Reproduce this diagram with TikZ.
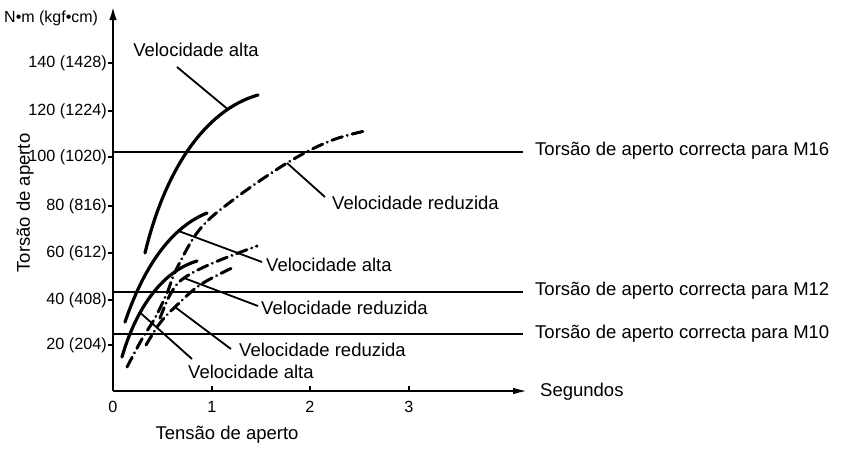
\documentclass[tikz,border=0pt]{standalone}
\usepackage{fontspec}
\setmainfont{Liberation Sans}
\usetikzlibrary{arrows.meta}
\begin{document}
\begin{tikzpicture}[x=1pt,y=-1pt,
  lbl/.style={font=\fontsize{18.5}{20}\selectfont, inner sep=0pt},
  ticklbl/.style={font=\fontsize{16.2}{18}\selectfont, inner sep=0pt},
  unitlbl/.style={font=\fontsize{16}{17}\selectfont, inner sep=0pt},
  high/.style={line width=3.2pt, line cap=round},
  low/.style={line width=3pt, line cap=round, dash pattern=on 11pt off 5pt on 0.1pt off 5pt},
  leader/.style={line width=1.8pt},
  axisline/.style={line width=2.4pt},
  refline/.style={line width=2pt},
  tickmark/.style={line width=1.6pt}]
\useasboundingbox (0,0) rectangle (841,448);

% axes
\coordinate (O) at (113,391);
\coordinate (ytop) at (113,6);
\coordinate (xend) at (529,391);
\draw[axisline, -{Latex[length=14pt,width=7.5pt]}] (O) -- (ytop);
\draw[axisline, -{Latex[length=16pt,width=6.5pt]}] (O) -- (xend);
\node[lbl, anchor=west] (seg) at (540,392) {Segundos};
\node[unitlbl, anchor=west] (unit) at (4,18) {N•m (kgf•cm)};
\node[lbl, rotate=90] (yl) at (25,203) {Torsão de aperto};
\node[lbl] (xl) at (227,435) {Tensão de aperto};

% y ticks
\foreach \yy/\tx [count=\i] in {63/140 (1428),111/120 (1224),157/100 (1020),206/80 (816),253/60 (612),300/40 (408),345/20 (204)}{
  \coordinate (yt\i) at (113,\yy);
  \draw[tickmark] (yt\i) -- ++(-5,0);
  \node[ticklbl, anchor=east] (ytl\i) at (107,\yy) {\tx};
}
% x ticks
\foreach \xx/\tx [count=\i] in {113/0,212/1,310/2,409/3}{
  \coordinate (xt\i) at (\xx,391);
  \draw[tickmark] (xt\i) -- ++(0,-5);
  \node[ticklbl] (xtl\i) at (\xx,407) {\tx};
}

% reference lines
\coordinate (m16a) at (113,152); \coordinate (m16b) at (523,152);
\coordinate (m12a) at (113,292); \coordinate (m12b) at (523,292);
\coordinate (m10a) at (113,334); \coordinate (m10b) at (523,334);
\draw[refline] (m16a) -- (m16b);
\draw[refline] (m12a) -- (m12b);
\draw[refline] (m10a) -- (m10b);
\node[lbl, anchor=west] (t16) at (535,151) {Torsão de aperto correcta para M16};
\node[lbl, anchor=west] (t12) at (535,291) {Torsão de aperto correcta para M12};
\node[lbl, anchor=west] (t10) at (535,334) {Torsão de aperto correcta para M10};

% high speed curves
\draw[high] (145,253) .. controls (165,170) and (205,110) .. (258,95);
\draw[high] (125,322) .. controls (140,278) and (165,230) .. (207,213);
\draw[high] (122,357) .. controls (135,312) and (160,272) .. (197,261);
% reduced speed curves
\draw[low] plot[smooth, tension=0.6] coordinates {(127,367) (142,339) (155,318) (167,293) (177,268) (200,229) (233,200) (287,163) (330,141) (365,131)};
\draw[low] plot[smooth, tension=0.6] coordinates {(160,318) (171,293) (184,278) (213,263) (257,246)};
\draw[low] plot[smooth, tension=0.6] coordinates {(146,345) (160,323) (175,307) (200,285) (232,268)};

% leader start points (on the curves)
\coordinate (kA) at (227.8,109.2);
\coordinate (kB) at (178.6,231);
\coordinate (kC) at (140.1,312.6);
\coordinate (kE) at (287,163);
\coordinate (kF) at (184,278);
\coordinate (kG) at (175,307);

% labels
\node[lbl] (lA) at (196,50) {Velocidade alta};
\node[lbl, anchor=west] (lE) at (332,203) {Velocidade reduzida};
\node[lbl, anchor=west] (lB) at (266,265) {Velocidade alta};
\node[lbl, anchor=west] (lF) at (261,308) {Velocidade reduzida};
\node[lbl, anchor=west] (lG) at (239,350) {Velocidade reduzida};
\node[lbl, anchor=west] (lC) at (188,372) {Velocidade alta};

% leader ends
\coordinate (eA) at (177,67);
\coordinate (eE) at (325,197);
\coordinate (eB) at (262,262);
\coordinate (eF) at (258,306);
\coordinate (eG) at (231,349);
\coordinate (eC) at (192,359);

\draw[leader] (kA) -- (eA);
\draw[leader] (kE) -- (eE);
\draw[leader] (kB) -- (eB);
\draw[leader] (kF) -- (eF);
\draw[leader] (kG) -- (eG);
\draw[leader] (kC) -- (eC);
\end{tikzpicture}
\end{document}
